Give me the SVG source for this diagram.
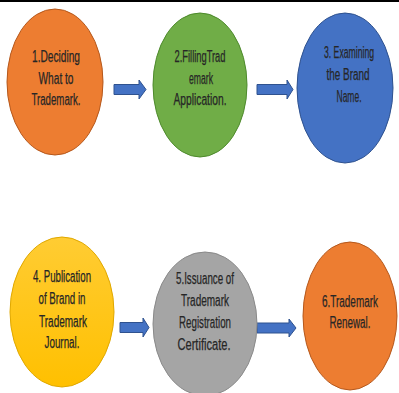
<svg xmlns="http://www.w3.org/2000/svg" width="399" height="393" viewBox="0 0 399 393">
<defs>
<style>
.lbl{font-family:"Liberation Sans Narrow","Liberation Sans",Arial,sans-serif;font-size:16px;fill:#262626;stroke:#262626;stroke-width:0.25;text-anchor:middle}
.arr{fill:#4472C4;stroke:#2F528F;stroke-width:1}
</style>
<linearGradient id="yg" x1="0" y1="0" x2="0" y2="1">
<stop offset="0" stop-color="#FFCC33"/>
<stop offset="1" stop-color="#FFC000"/>
</linearGradient>
</defs>
<rect x="0" y="0" width="399" height="393" fill="#ffffff"/>
<rect x="0" y="0" width="399" height="2" fill="#000000"/>
<g id="connectors">
<path class="arr" d="M114,84.5 H139 V80 L146,89.5 L139,99 V94.5 H114 Z"/>
<path class="arr" d="M257,84.5 H287 V80 L293,89.5 L287,99 V94.5 H257 Z"/>
<path class="arr" d="M120,322.5 H143 V318 L149,327.5 L143,337 V332.5 H120 Z"/>
<path class="arr" d="M257,323 H289 V319 L296,328 L289,337 V333 H257 Z"/>
</g>
<g id="node1">
<ellipse cx="55" cy="82" rx="48" ry="73" fill="#ED7D31" stroke="#B5581C" stroke-width="1"/>
<text class="lbl" x="56" y="62" textLength="48" lengthAdjust="spacingAndGlyphs">1.Deciding</text>
<text class="lbl" x="56" y="84" textLength="35" lengthAdjust="spacingAndGlyphs">What to</text>
<text class="lbl" x="56" y="105" textLength="49" lengthAdjust="spacingAndGlyphs">Trademark.</text>
</g>
<g id="node2">
<ellipse cx="200" cy="85" rx="47" ry="72" fill="#70AD47" stroke="#4E8A2C" stroke-width="1"/>
<text class="lbl" x="200" y="62" textLength="51" lengthAdjust="spacingAndGlyphs">2.FillingTrad</text>
<text class="lbl" x="201" y="84" textLength="24" lengthAdjust="spacingAndGlyphs">emark</text>
<text class="lbl" x="200" y="105" textLength="53" lengthAdjust="spacingAndGlyphs">Application.</text>
</g>
<g id="node3">
<ellipse cx="345" cy="88" rx="48" ry="75" fill="#4472C4" stroke="#2F528F" stroke-width="1"/>
<text class="lbl" x="349" y="58" textLength="50" lengthAdjust="spacingAndGlyphs">3. Examining</text>
<text class="lbl" x="348" y="80" textLength="43" lengthAdjust="spacingAndGlyphs">the Brand</text>
<text class="lbl" x="349" y="102" textLength="25" lengthAdjust="spacingAndGlyphs">Name.</text>
</g>
<g id="node4">
<ellipse cx="62" cy="312" rx="52" ry="75" fill="url(#yg)" stroke="#E0A800" stroke-width="1"/>
<text class="lbl" x="62" y="282" textLength="58" lengthAdjust="spacingAndGlyphs">4. Publication</text>
<text class="lbl" x="62" y="304" textLength="47" lengthAdjust="spacingAndGlyphs">of Brand in</text>
<text class="lbl" x="63" y="327" textLength="48" lengthAdjust="spacingAndGlyphs">Trademark</text>
<text class="lbl" x="62" y="348" textLength="35" lengthAdjust="spacingAndGlyphs">Journal.</text>
</g>
<g id="node5">
<ellipse cx="205" cy="324" rx="52" ry="72" fill="#A5A5A5" stroke="#8A8A8A" stroke-width="1"/>
<text class="lbl" x="205" y="284" textLength="58" lengthAdjust="spacingAndGlyphs">5.Issuance of</text>
<text class="lbl" x="205" y="306" textLength="48" lengthAdjust="spacingAndGlyphs">Trademark</text>
<text class="lbl" x="205" y="328" textLength="52" lengthAdjust="spacingAndGlyphs">Registration</text>
<text class="lbl" x="204" y="350" textLength="53" lengthAdjust="spacingAndGlyphs">Certificate.</text>
</g>
<g id="node6">
<ellipse cx="350" cy="316" rx="47" ry="74" fill="#ED7D31" stroke="#B5581C" stroke-width="1"/>
<text class="lbl" x="350" y="307" textLength="56" lengthAdjust="spacingAndGlyphs">6.Trademark</text>
<text class="lbl" x="350" y="328" textLength="41" lengthAdjust="spacingAndGlyphs">Renewal.</text>
</g>
</svg>
